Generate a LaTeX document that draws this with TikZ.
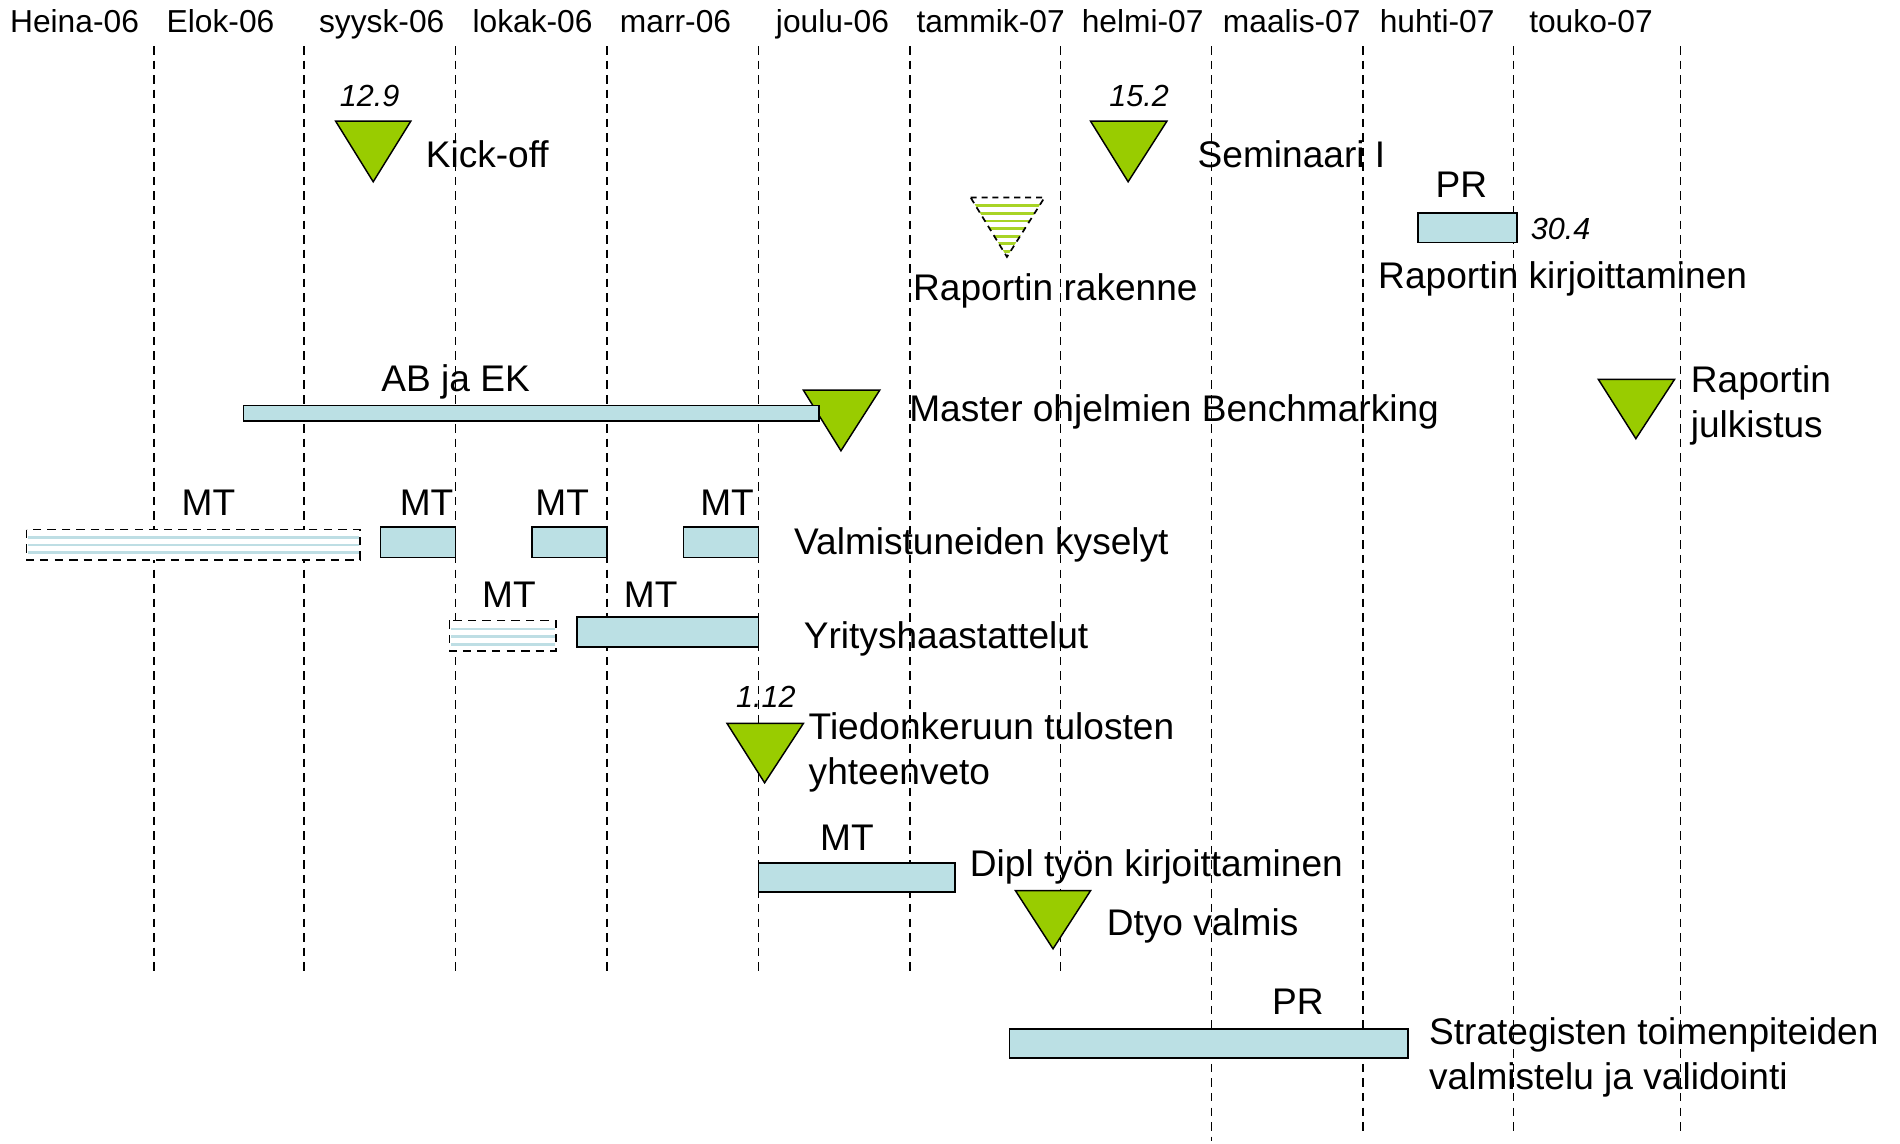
\documentclass[tikz,border=0pt]{standalone}
\usepackage{fontspec}
\setmainfont{Liberation Sans}
\newcommand\gmainf{\fontsize{15.3pt}{18.5pt}\selectfont}
\newcommand\gheadf{\fontsize{13.1pt}{15pt}\selectfont}
\newcommand\gnumf{\fontsize{12.6pt}{15pt}\selectfont\itshape}
\definecolor{msgreen}{RGB}{153,204,0}
\definecolor{barblue}{RGB}{187,224,228}
\definecolor{stripeblue}{RGB}{190,222,228}
\begin{document}
\begin{tikzpicture}[x=0.5pt,y=-0.5pt,
  vline/.style={line width=0.6pt, dash pattern=on 3.5pt off 2.5pt},
  ms/.style={fill=msgreen, draw=black, line width=0.6pt, line join=miter},
  msdash/.style={draw=black, line width=0.7pt, dash pattern=on 2.5pt off 2pt},
  bar/.style={fill=barblue, draw=black, line width=0.65pt},
  plan/.style={fill=white, draw=black, line width=0.65pt, dash pattern=on 3.5pt off 2.5pt},
  hstripe/.style={draw=stripeblue, line width=1pt},
  gstripe/.style={draw=msgreen!85!white, line width=1.1pt},
  lbl/.style={font=\gmainf, inner sep=0pt, anchor=base west},
  clbl/.style={font=\gmainf, inner sep=0pt, anchor=base},
  hdr/.style={font=\gheadf, inner sep=0pt, anchor=base},
  num/.style={font=\gnumf, inner sep=0pt, anchor=base},
]
\useasboundingbox (0,0) rectangle (1568,944);

% vertical month separators
\foreach \x in {127,251,376,501,626,751,875}
  \draw[vline] (\x,38) -- (\x,805);
\draw[vline] (1000,38) -- (1000,942);
\foreach \x in {1125,1249,1387}
  \draw[vline] (\x,38) -- (\x,933);

% month headers
\node[hdr] (h1) at (61.5,27) {Heina-06};
\node[hdr] (h2) at (182,27) {Elok-06};
\node[hdr] (h3) at (315,27) {syysk-06};
\node[hdr] (h4) at (439.5,27) {lokak-06};
\node[hdr] (h5) at (557.5,27) {marr-06};
\node[hdr] (h6) at (687,27) {joulu-06};
\node[hdr] (h7) at (817.5,27) {tammik-07};
\node[hdr] (h8) at (943,27) {helmi-07};
\node[hdr] (h9) at (1066,27) {maalis-07};
\node[hdr] (h10) at (1186,27) {huhti-07};
\node[hdr] (h11) at (1313,27) {touko-07};

% milestones
\draw[ms] (277,100) -- (339,100) -- (308,150) -- cycle;   % Kick-off
\draw[ms] (900,100) -- (963,100) -- (931,150) -- cycle;   % Seminaari I
\draw[ms] (663,322) -- (726,322) -- (694,372) -- cycle;   % Master
\draw[ms] (1319,313) -- (1382,313) -- (1350,362) -- cycle; % Raportin julkistus
\draw[ms] (600,597) -- (663,597) -- (631,646) -- cycle;   % Tiedonkeruun
\draw[ms] (838,735) -- (900,735) -- (869,783) -- cycle;   % Dtyo valmis

% planned milestone (dashed, striped)
\begin{scope}
  \clip (801,163) -- (862,163) -- (831,212) -- cycle;
  \fill[white] (795,160) rectangle (870,215);
  \foreach \y in {169.7,176,182.3,188.6,194.9,201.2,207.5}
    \draw[gstripe] (795,\y) -- (870,\y);
\end{scope}
\draw[msdash] (801,163) -- (862,163) -- (831,212) -- cycle;

% bars
\draw[bar] (1170,176) rectangle (1252,200);
\draw[bar] (201,334.5) rectangle (676,347.5);
\draw[bar] (314,435) rectangle (376,460);
\draw[bar] (439,435) rectangle (501,460);
\draw[bar] (564,435) rectangle (626,460);
\draw[bar] (476,509) rectangle (626,534);
\draw[bar] (626,712) rectangle (788,736);
\draw[bar] (833,849) rectangle (1162,873);

% planned (dashed, striped) bars
\draw[plan] (22,437) rectangle (297,462);
\foreach \y in {443.5,449.8,456.1}
  \draw[hstripe] (23,\y) -- (296,\y);
\draw[plan] (371,512) rectangle (459,537);
\foreach \y in {519,525.4,531.8}
  \draw[hstripe] (372,\y) -- (458,\y);

% numbers
\node[num] (n1) at (305,88) {12.9};
\node[num] (n2) at (940,88) {15.2};
\node[num, anchor=base west] (n3) at (1263,198) {30.4};
\node[num] (n4) at (632,584) {1.12};

% bar resource labels
\node[clbl] (pr1) at (1206,163) {PR};
\node[clbl] (ab) at (376,323) {AB ja EK};
\node[clbl] (mt1) at (172,425) {MT};
\node[clbl] (mt2) at (352,425) {MT};
\node[clbl] (mt3) at (464,425) {MT};
\node[clbl] (mt4) at (600,425) {MT};
\node[clbl] (mt5) at (420,501) {MT};
\node[clbl] (mt6) at (537,501) {MT};
\node[clbl] (mt7) at (699,702) {MT};
\node[clbl] (pr2) at (1071,837) {PR};

% task labels
\node[lbl] (t1) at (351,138) {Kick-off};
\node[lbl] (t2) at (988,138) {Seminaari I};
\node[clbl] (t3) at (871,248) {Raportin rakenne};
\node[lbl] (t4) at (1137,238) {Raportin kirjoittaminen};
\node[lbl] (t5) at (750,348) {Master ohjelmien Benchmarking};
\node[lbl] (t6a) at (1395,324) {Raportin};
\node[lbl] (t6b) at (1395,361) {julkistus};
\node[lbl] (t7) at (655,458) {Valmistuneiden kyselyt};
\node[lbl] (t8) at (663,535) {Yrityshaastattelut};
\node[lbl] (t9a) at (667,610) {Tiedonkeruun tulosten};
\node[lbl] (t9b) at (667,647) {yhteenveto};
\node[lbl] (t10) at (800,723) {Dipl työn kirjoittaminen};
\node[lbl] (t11) at (913,772) {Dtyo valmis};
\node[lbl] (t12a) at (1179,862) {Strategisten toimenpiteiden};
\node[lbl] (t12b) at (1179,899) {valmistelu ja validointi};
\end{tikzpicture}
\end{document}
